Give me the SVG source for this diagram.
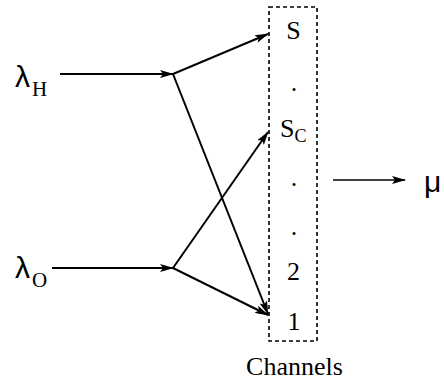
<svg xmlns="http://www.w3.org/2000/svg" width="444" height="381" viewBox="0 0 444 381">
<style>
.ln{stroke:#000;stroke-width:2;fill:none}
.thin{stroke:#000;stroke-width:1.6;fill:none}
.greek{font-family:"Liberation Sans",Arial,sans-serif;font-size:30px;fill:#000}
.sub{font-family:"Liberation Serif","Times New Roman",serif;font-size:21px;fill:#000}
.ch{font-family:"Liberation Serif","Times New Roman",serif;font-size:26px;fill:#000;text-anchor:middle}
</style>
<defs>
<marker id="ah" markerWidth="14" markerHeight="8" refX="13" refY="4" orient="auto" markerUnits="userSpaceOnUse">
<path d="M0,0 L14,4 L0,8 L3,4 Z" fill="#000"/>
</marker>
</defs>
<g id="channels">
<rect x="269" y="7" width="48" height="334" fill="none" stroke="#000" stroke-width="1.6" stroke-dasharray="4,3"/>
<text class="ch" x="293.5" y="39">S</text>
<text class="ch" x="294" y="91">.</text>
<text class="ch" x="280" y="137" style="text-anchor:start">S<tspan font-size="18" dy="5">C</tspan></text>
<text class="ch" x="294" y="186">.</text>
<text class="ch" x="294" y="235">.</text>
<text class="ch" x="293.5" y="280">2</text>
<text class="ch" x="294" y="330">1</text>
<text class="ch" x="294.5" y="375" font-size="25.5">Channels</text>
</g>
<g id="lambdaH">
<text class="greek" x="15" y="87">λ</text>
<text class="sub" x="32" y="96">H</text>
</g>
<g id="lambdaO">
<text class="greek" x="15" y="278">λ</text>
<text class="sub" x="32" y="287">O</text>
</g>
<g id="mu">
<text class="greek" x="424" y="192" font-size="26">μ</text>
</g>
<g id="connectors">
<line class="ln" x1="60" y1="74" x2="173" y2="74" marker-end="url(#ah)"/>
<line class="ln" x1="52" y1="268" x2="173" y2="268" marker-end="url(#ah)"/>
<line class="ln" x1="173" y1="74" x2="268" y2="34" marker-end="url(#ah)"/>
<line class="ln" x1="173" y1="74" x2="268" y2="314" marker-end="url(#ah)"/>
<line class="ln" x1="173" y1="268" x2="268" y2="132" marker-end="url(#ah)"/>
<line class="ln" x1="173" y1="268" x2="268" y2="315" marker-end="url(#ah)"/>
<line class="thin" x1="333" y1="180" x2="405" y2="180" marker-end="url(#ah)"/>
</g>
</svg>
